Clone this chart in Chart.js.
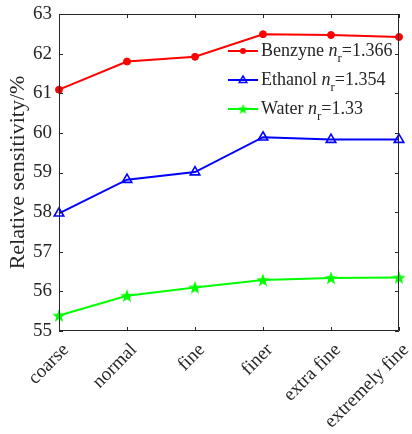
<!DOCTYPE html>
<html>
<head>
<meta charset="utf-8">
<script src="https://cdn.jsdelivr.net/npm/chart.js@4/dist/chart.umd.min.js"></script>
<style>
  html, body { margin: 0; padding: 0; background: #fff; }
  #wrap { width: 412px; height: 434px; position: relative; }
</style>
</head>
<body>
<div id="wrap"><canvas id="c" width="412" height="434"></canvas></div>
<script>
// Mesh refinement levels along the x axis
const categories = ['coarse', 'normal', 'fine', 'finer', 'extra fine', 'extremely fine'];

// Relative sensitivity (%) for each analyte
const benzyne = [61.09, 61.80, 61.92, 62.49, 62.47, 62.42];
const ethanol = [57.97, 58.82, 59.01, 59.89, 59.83, 59.83];
const water   = [55.39, 55.89, 56.10, 56.29, 56.34, 56.35];

// Legend names and refractive indices
const seriesNames = ['Benzyne', 'Ethanol', 'Water'];
const refractiveIdx = ['1.366', '1.354', '1.33'];

// Y axis ticks
const yTicks = [55, 56, 57, 58, 59, 60, 61, 62, 63];

const AXIS_COLOR = '#262626';
const FONT = "'Liberation Serif', 'Times New Roman', serif";

// Filled five-point star marker
function makeStar(size, color) {
  const cv = document.createElement('canvas');
  cv.width = size; cv.height = size;
  const g = cv.getContext('2d');
  const cx = size / 2, cy = size / 2 + size * 0.04;
  const ro = size / 2, ri = ro * 0.42;
  g.beginPath();
  for (let i = 0; i < 10; i++) {
    const r = i % 2 === 0 ? ro : ri;
    const a = -Math.PI / 2 + i * Math.PI / 5;
    const px = cx + r * Math.cos(a), py = cy + r * Math.sin(a);
    if (i === 0) g.moveTo(px, py); else g.lineTo(px, py);
  }
  g.closePath();
  g.fillStyle = color;
  g.fill();
  return cv;
}
const starBig = makeStar(14, '#00ff00');
const starSmall = makeStar(11, '#00ff00');

// Frame with inward ticks on all four sides
const framePlugin = {
  id: 'frame',
  afterDatasetsDraw(chart) {
    const { ctx, chartArea: a, scales } = chart;
    const tl = 4;
    ctx.save();
    ctx.strokeStyle = AXIS_COLOR;
    ctx.lineWidth = 1;
    ctx.beginPath();
    ctx.rect(a.left + 0.5, a.top + 0.5, a.right - a.left - 1, a.bottom - a.top - 1);
    ctx.stroke();
    ctx.beginPath();
    scales.x.ticks.forEach((t, i) => {
      const px = Math.round(scales.x.getPixelForTick(i)) + 0.5;
      ctx.moveTo(px, a.bottom); ctx.lineTo(px, a.bottom - tl);
      ctx.moveTo(px, a.top); ctx.lineTo(px, a.top + tl);
    });
    yTicks.forEach(v => {
      const py = Math.round(scales.y.getPixelForValue(v)) + 0.5;
      ctx.moveTo(a.left, py); ctx.lineTo(a.left + tl, py);
      ctx.moveTo(a.right, py); ctx.lineTo(a.right - tl, py);
    });
    ctx.stroke();
    ctx.restore();
  }
};

// Legend with italic n and subscript r
const legendPlugin = {
  id: 'nLegend',
  afterDraw(chart) {
    const { ctx } = chart;
    const x0 = 228, x1 = 258, tx = 261;
    const y0 = 51, dy = 29;
    ctx.save();
    chart.data.datasets.forEach((ds, i) => {
      const y = y0 + i * dy;
      ctx.strokeStyle = ds.borderColor;
      ctx.lineWidth = 2;
      ctx.beginPath();
      ctx.moveTo(x0, y); ctx.lineTo(x1, y);
      ctx.stroke();
      const xm = (x0 + x1) / 2;
      if (i === 0) {
        ctx.fillStyle = ds.pointBackgroundColor;
        ctx.beginPath(); ctx.arc(xm, y, 3, 0, Math.PI * 2); ctx.fill();
      } else if (i === 1) {
        ctx.strokeStyle = ds.borderColor; ctx.lineWidth = 1.5;
        const r = 4;
        ctx.beginPath();
        ctx.moveTo(xm, y - r); ctx.lineTo(xm + r * 0.95, y + r * 0.6); ctx.lineTo(xm - r * 0.95, y + r * 0.6); ctx.closePath();
        ctx.stroke();
      } else {
        ctx.drawImage(starSmall, xm - 5.5, y - 5.5);
      }
      ctx.fillStyle = AXIS_COLOR;
      ctx.textBaseline = 'alphabetic';
      ctx.textAlign = 'left';
      const base = y + 5;
      let x = tx;
      ctx.font = '18px ' + FONT;
      const name = seriesNames[i] + ' ';
      ctx.fillText(name, x, base);
      x += ctx.measureText(name).width;
      ctx.font = 'italic 18px ' + FONT;
      ctx.fillText('n', x, base);
      x += ctx.measureText('n').width;
      ctx.font = '13px ' + FONT;
      ctx.fillText('r', x, base + 6);
      x += ctx.measureText('r').width;
      ctx.font = '18px ' + FONT;
      ctx.fillText('=' + refractiveIdx[i], x, base);
    });
    ctx.restore();
  }
};

new Chart(document.getElementById('c'), {
  type: 'line',
  data: {
    labels: categories,
    datasets: [
      {
        label: seriesNames[0], data: benzyne,
        borderColor: '#ff0000', backgroundColor: '#ff0000',
        pointBackgroundColor: '#ff0000', pointBorderColor: '#ff0000',
        pointStyle: 'circle', pointRadius: 3.5, pointBorderWidth: 1, borderWidth: 2
      },
      {
        label: seriesNames[1], data: ethanol,
        borderColor: '#0000ff', backgroundColor: 'rgba(0,0,0,0)',
        pointBackgroundColor: 'rgba(0,0,0,0)', pointBorderColor: '#0000ff',
        pointStyle: 'triangle', pointRadius: 5.5, pointBorderWidth: 1.6, borderWidth: 2
      },
      {
        label: seriesNames[2], data: water,
        borderColor: '#00ff00', backgroundColor: '#00ff00',
        pointBackgroundColor: '#00ff00', pointBorderColor: '#00ff00',
        pointStyle: starBig, pointRadius: 7, pointBorderWidth: 1, borderWidth: 2
      }
    ]
  },
  options: {
    responsive: false,
    animation: false,
    layout: { padding: { left: 0, right: 13, top: 14, bottom: 0 } },
    plugins: { legend: { display: false }, tooltip: { enabled: false } },
    elements: { line: { tension: 0 } },
    scales: {
      x: {
        type: 'category',
        offset: false,
        grid: { display: false, drawTicks: false },
        border: { display: false },
        ticks: {
          color: AXIS_COLOR,
          font: { family: FONT, size: 19 },
          minRotation: 45, maxRotation: 45,
          padding: 8,
          labelOffset: 7,
          autoSkip: false
        },
        afterFit(s) { s.height = 103; s.paddingLeft = 0; s.paddingRight = 0; }
      },
      y: {
        min: 55, max: 63,
        grid: { display: false, drawTicks: false },
        border: { display: false },
        afterBuildTicks(s) { s.ticks = yTicks.map(v => ({ value: v })); },
        ticks: {
          color: AXIS_COLOR,
          font: { family: FONT, size: 19 },
          padding: 7
        },
        title: {
          display: true,
          text: 'Relative sensitivity/%',
          color: AXIS_COLOR,
          font: { family: FONT, size: 22 },
          padding: { top: 5, bottom: 0 }
        },
        afterFit(s) { s.width = 59; s.paddingTop = 0; s.paddingBottom = 0; }
      }
    }
  },
  plugins: [framePlugin, legendPlugin]
});
</script>
</body>
</html>
